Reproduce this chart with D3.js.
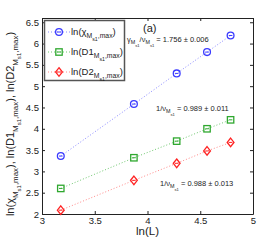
<!DOCTYPE html>
<html>
<head>
<meta charset="utf-8">
<script src="https://cdn.jsdelivr.net/npm/d3@7"></script>
<style>
  body { margin: 0; background: #fff; }
  svg { display: block; font-family: "Liberation Sans", Arial, sans-serif; }
</style>
</head>
<body>
<div id="chart"></div>
<script>
const width = 280
const height = 241
const margin = ({top: 18, right: 27, bottom: 27, left: 42})

// data
const L = [24, 48, 72, 96, 120]
const lnChi = [3.36, 4.58, 5.30, 5.80, 6.19]
const lnD1 = [2.60, 3.32, 3.71, 4.00, 4.21]
const lnD2 = [2.09, 2.79, 3.19, 3.48, 3.68]
const xTicks = [3, 3.5, 4, 4.5, 5]
const yTicks = [2, 2.5, 3, 3.5, 4, 4.5, 5, 5.5, 6, 6.5]
const fitLabels = ["1.756 \u00b1 0.006", "0.989 \u00b1 0.011", "0.988 \u00b1 0.013"]

const series = [
  {name: "\u03c7", values: lnChi, color: "#3a3aff", line: "#8a8aff", shape: "circle"},
  {name: "D1", values: lnD1, color: "#2fa82f", line: "#70c870", shape: "square"},
  {name: "D2", values: lnD2, color: "#ff2222", line: "#ff8a8a", shape: "diamond"}
]

const x = d3.scaleLinear().domain([3, 5]).range([margin.left, width - margin.right])
const y = d3.scaleLinear().domain([2, 6.6]).range([height - margin.bottom, margin.top])

const svg = d3.select("#chart").append("svg")
    .attr("width", width).attr("height", height)
    .attr("viewBox", [0, 0, width, height])

// rich text with sub / sub-sub levels
function rich(sel, segs, size) {
  const sizes = [size, size * 0.72, size * 0.55]
  const offs = [0, size * 0.32, size * 0.62]
  let cur = 0
  segs.forEach(([t, lv]) => {
    sel.append("tspan")
        .attr("dy", offs[lv] - cur)
        .attr("font-size", sizes[lv])
        .text(t)
    cur = offs[lv]
  })
  return sel
}

// axes
const axisStyle = g => g
    .call(g => g.select(".domain").attr("stroke", "#222"))
    .call(g => g.selectAll(".tick line").attr("stroke", "#222"))
    .call(g => g.selectAll(".tick text").attr("fill", "#222").attr("font-size", 9.5)
        .attr("font-family", "Liberation Sans, Arial, sans-serif"))

svg.append("g")
    .attr("transform", `translate(0,${height - margin.bottom})`)
    .call(d3.axisBottom(x).tickValues(xTicks).tickFormat(d3.format("")).tickSizeInner(-3).tickSizeOuter(0).tickPadding(3))
    .call(axisStyle)
svg.append("g")
    .attr("transform", `translate(0,${margin.top})`)
    .call(d3.axisTop(x).tickValues(xTicks).tickFormat("").tickSizeInner(-3).tickSizeOuter(0))
    .call(axisStyle)
svg.append("g")
    .attr("transform", `translate(${margin.left},0)`)
    .call(d3.axisLeft(y).tickValues(yTicks).tickFormat(d3.format("")).tickSizeInner(-3).tickSizeOuter(0).tickPadding(3))
    .call(axisStyle)
svg.append("g")
    .attr("transform", `translate(${width - margin.right},0)`)
    .call(d3.axisRight(y).tickValues(yTicks).tickFormat("").tickSizeInner(-3).tickSizeOuter(0))
    .call(axisStyle)

// markers
function marker(g, shape, color, cx, cy) {
  if (shape === "circle") {
    g.append("circle").attr("cx", cx).attr("cy", cy).attr("r", 3.4)
        .attr("fill", "none").attr("stroke", color).attr("stroke-width", 1.3)
  } else if (shape === "square") {
    g.append("rect").attr("x", cx - 3.2).attr("y", cy - 3.2).attr("width", 6.4).attr("height", 6.4)
        .attr("fill", "none").attr("stroke", color).attr("stroke-width", 1.3)
  } else {
    g.append("path").attr("d", `M${cx},${cy - 4.3}L${cx + 3.4},${cy}L${cx},${cy + 4.3}L${cx - 3.4},${cy}Z`)
        .attr("fill", "none").attr("stroke", color).attr("stroke-width", 1.3)
  }
  g.append("line").attr("x1", cx - 1.8).attr("x2", cx + 1.8).attr("y1", cy).attr("y2", cy)
      .attr("stroke", color).attr("stroke-width", 1)
}

const line = d3.line().x((d, i) => x(Math.log(L[i]))).y(d => y(d))

series.forEach(s => {
  svg.append("path")
      .datum(s.values)
      .attr("fill", "none")
      .attr("stroke", s.line)
      .attr("stroke-width", 1)
      .attr("stroke-dasharray", "1,2")
      .attr("d", line)
  const g = svg.append("g")
  s.values.forEach((v, i) => marker(g, s.shape, s.color, x(Math.log(L[i])), y(v)))
})

// legend
const leg = svg.append("g")
leg.append("rect").attr("x", 44.5).attr("y", 20.5).attr("width", 80).attr("height", 60)
    .attr("fill", "#fff").attr("stroke", "#555").attr("stroke-width", 1.5)
series.forEach((s, i) => {
  const ly = 32 + i * 20
  leg.append("line").attr("x1", 48).attr("x2", 70).attr("y1", ly).attr("y2", ly)
      .attr("stroke", s.line).attr("stroke-dasharray", "1,2")
  marker(leg, s.shape, s.color, 59, ly)
  const t = leg.append("text").attr("x", 71).attr("y", ly + 3).attr("fill", "#222")
  rich(t, [["ln(" + s.name, 0], ["M", 1], ["s1", 2], [",max", 1], [")", 0]], 9.5)
})

// annotations
svg.append("text").attr("x", 143).attr("y", 32).attr("font-size", 11).attr("fill", "#222").text("(a)")

rich(svg.append("text").attr("x", 127).attr("y", 42).attr("fill", "#222"),
  [["\u03b3", 0], ["M", 1], ["s1", 2], ["/\u03bd", 0], ["M", 1], ["s1", 2], [" = " + fitLabels[0], 0]], 7.5)
rich(svg.append("text").attr("x", 156).attr("y", 111).attr("fill", "#222"),
  [["1/\u03bd", 0], ["M", 1], ["s1", 2], [" = " + fitLabels[1], 0]], 7.5)
rich(svg.append("text").attr("x", 160).attr("y", 186).attr("fill", "#222"),
  [["1/\u03bd", 0], ["M", 1], ["s1", 2], [" = " + fitLabels[2], 0]], 7.5)

// axis titles
svg.append("text").attr("x", (margin.left + width - margin.right) / 2).attr("y", 235)
    .attr("text-anchor", "middle").attr("font-size", 11.5).attr("fill", "#222").text("ln(L)")

const yl = svg.append("text")
    .attr("transform", `translate(14,${(margin.top + height - margin.bottom) / 2 + 8}) rotate(-90)`)
    .attr("text-anchor", "middle").attr("fill", "#222")
rich(yl, [["ln(\u03c7", 0], ["M", 1], ["s1", 2], [",max", 1], ["), ln(D1", 0], ["M", 1], ["s1", 2], [",max", 1],
  ["), ln(D2", 0], ["M", 1], ["s1", 2], [",max", 1], [")", 0]], 11)
</script>
</body>
</html>
